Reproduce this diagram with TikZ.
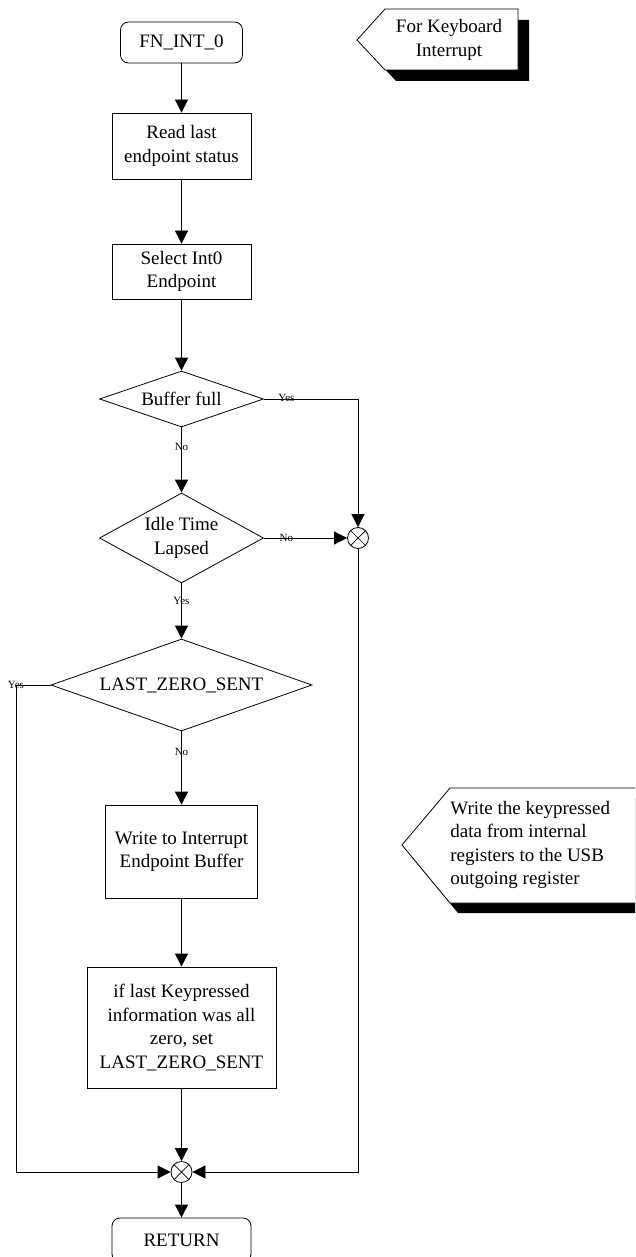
\documentclass[tikz,border=0pt]{standalone}
\usepackage{fontspec}
\setmainfont{Liberation Serif}
\usetikzlibrary{shapes.geometric,arrows.meta}

\begin{document}
\begin{tikzpicture}[x=1pt, y=-1pt, line width=0.8pt,
  every node/.style={font=\fontsize{19}{23.5}\selectfont},
  proc/.style={draw, rectangle, align=center, inner sep=0pt},
  term/.style={draw, rectangle, rounded corners=8pt, align=center, inner sep=0pt,
    minimum width=139pt, minimum height=44pt},
  decision/.style={draw, diamond, align=center, inner sep=0pt},
  junction/.style={draw, circle, inner sep=0pt, minimum size=21pt,
    path picture={\draw[line width=0.7pt]
      (path picture bounding box.north west) -- (path picture bounding box.south east)
      (path picture bounding box.north east) -- (path picture bounding box.south west);}},
  flow/.style={-{Triangle[length=13pt,width=13pt]}},
  lbl/.style={font=\fontsize{11}{13}\selectfont, inner sep=0pt},
]
\useasboundingbox (0,0) rectangle (635,1257);

% main column
\node[term, minimum width=122pt, minimum height=41pt] (start) at (181.5,42.5) {FN\_INT\_0};
\node[proc, minimum width=139pt, minimum height=66pt] (read) at (181.5,146) {Read last\\endpoint status};
\node[proc, minimum width=139pt, minimum height=55pt] (sel) at (181.5,271.5) {Select Int0\\Endpoint};
\node[decision, minimum width=164pt, minimum height=56pt, aspect=2.9] (buf) at (181.5,399) {Buffer full};
\node[decision, minimum width=164pt, minimum height=90pt, aspect=1.8] (idle) at (181.5,538) {Idle Time\\Lapsed};
\node[decision, minimum width=261pt, minimum height=92pt, aspect=2.8] (lzs) at (181.5,685) {LAST\_ZERO\_SENT};
\node[proc, minimum width=152pt, minimum height=93pt] (wr) at (181.5,851.5) {Write to Interrupt\\Endpoint Buffer};
\node[proc, minimum width=189pt, minimum height=121pt] (setz) at (181.5,1027.5) {if last Keypressed\\information was all\\zero, set\\LAST\_ZERO\_SENT};
\node[junction] (j1) at (358,538) {};
\node[junction] (j2) at (181.5,1172) {};
\node[term] (ret) at (181.5,1240) {RETURN};
\coordinate (lk) at (16,685);

% connectors
\draw[flow] (start) -- (read);
\draw[flow] (read) -- (sel);
\draw[flow] (sel) -- (buf);
\draw[flow] (buf) -- node[lbl, pos=0.3] {No} (idle);
\draw[flow] (buf.east) -| node[lbl, pos=0.12, yshift=1.5pt] {Yes} (j1);
\draw[flow] (idle) -- node[lbl, pos=0.27] {No} (j1);
\draw[flow] (idle) -- node[lbl, pos=0.32] {Yes} (lzs);
\draw[flow] (lzs) -- node[lbl, pos=0.28] {No} (wr);
\draw[flow] (wr) -- (setz);
\draw[flow] (setz) -- (j2);
\draw[flow] (lzs.west) -- node[lbl, pos=1] {Yes} (lk) |- (j2);
\draw[flow] (j1) |- (j2);
\draw[flow] (j2) -- (ret);

% annotation flags with drop shadows
\fill (368,51) -- (396,20) -- (529,20) -- (529,81) -- (396,81) -- cycle;
\draw[fill=white] (357,40) -- (385,9) -- (518,9) -- (518,70) -- (385,70) -- cycle;
\node[align=center, inner sep=0pt] (note1) at (449,40) {For Keyboard\\Interrupt};

\begin{scope}
  \clip (0,0) rectangle (635,1257);
  \fill (410,855) -- (458,798) -- (690,798) -- (690,913) -- (458,913) -- cycle;
  \draw[fill=white] (402,845) -- (450,788) -- (680,788) -- (680,903) -- (450,903) -- cycle;
\end{scope}
\node[anchor=west, align=left, inner sep=0pt] (note2) at (450,845)
  {Write the keypressed\\data from internal\\registers to the USB\\outgoing register};
\end{tikzpicture}
\end{document}
